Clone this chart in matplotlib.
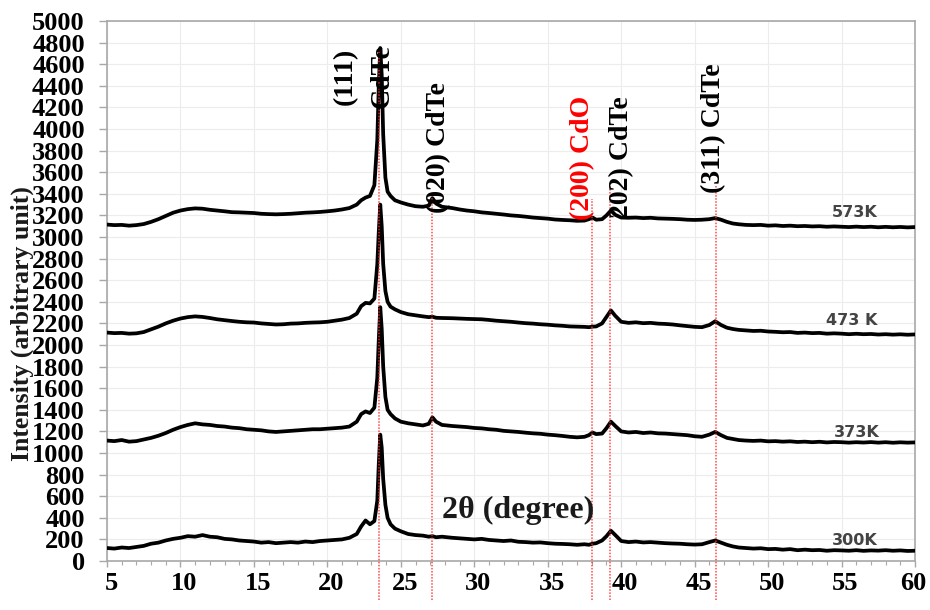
import matplotlib
matplotlib.use("Agg")
import matplotlib.pyplot as plt
import matplotlib.transforms as mtransforms
from matplotlib.ticker import MultipleLocator

# ---------------- data ----------------
two_theta = [5, 5.5, 6, 6.5, 7, 7.5, 8, 8.5, 9, 9.5, 10, 10.5, 11, 11.5, 12, 12.5, 13, 13.5,
             14, 14.5, 15, 15.5, 16, 16.5, 17, 17.5, 18, 18.5, 19, 19.5, 20, 20.5, 21, 21.5, 22,
             22.3, 22.6, 22.9, 23.2, 23.4, 23.5, 23.6, 23.7, 23.8, 23.95, 24.1, 24.3, 24.6,
             25, 25.5, 26, 26.5,
             26.9, 27.15, 27.4, 27.8,
             28.5, 29, 29.5, 30, 30.5, 31, 31.5, 32, 32.5, 33, 33.5, 34, 34.5, 35, 35.5, 36, 36.5, 37, 37.5,
             37.8, 38.05, 38.3, 38.7, 39.0, 39.3, 39.6, 40.0,
             40.5, 41, 41.5, 42, 42.5, 43, 43.5, 44, 44.5, 45, 45.5,
             46.0, 46.4, 46.8, 47.2, 47.6,
             48, 48.5, 49, 49.5, 50, 50.5, 51, 51.5, 52, 52.5, 53, 53.5, 54, 54.5, 55, 55.5, 56, 56.5,
             57, 57.5, 58, 58.5, 59, 59.5, 60]

i_300K = [120, 115, 125, 120, 130, 140, 160, 170, 190, 205, 215, 230, 225, 240, 225, 220, 205, 200,
          190, 185, 180, 170, 175, 165, 170, 175, 170, 180, 175, 185, 190, 195, 200, 215, 250,
          320, 375, 340, 370, 560, 900, 1170, 1050, 760, 520, 400, 340, 300,
          275, 250, 240, 235,
          225, 230, 220, 225,
          215, 210, 205, 200, 205, 195, 190, 185, 190, 178, 175, 170, 172, 165, 160, 158, 155, 150, 155,
          150, 160, 165, 190, 230, 280, 240, 185,
          175, 180, 172, 175, 170, 165, 162, 160, 155, 152, 155,
          175, 190, 170, 150, 135,
          125, 120, 115, 118, 110, 112, 105, 110, 100, 105, 100, 102, 95, 100, 98, 95, 100, 94,
          98, 96, 100, 95, 98, 93, 95]

i_373K = [1115, 1110, 1120, 1105, 1110, 1125, 1140, 1160, 1185, 1215, 1240, 1260, 1275, 1265, 1260, 1250, 1245, 1235,
          1230, 1220, 1215, 1210, 1200, 1195, 1200, 1205, 1210, 1215, 1220, 1220, 1225, 1230, 1235, 1245, 1290,
          1360, 1385, 1370, 1420, 1700, 2050, 2350, 2150, 1800, 1520, 1400, 1360, 1320,
          1290, 1275, 1265, 1255,
          1270, 1330, 1290, 1260,
          1250, 1245, 1240, 1232, 1228, 1220, 1215, 1205, 1200, 1195, 1188, 1182, 1178, 1170, 1165, 1158, 1150, 1145, 1150,
          1165, 1190, 1175, 1180, 1230, 1290, 1250, 1200,
          1190, 1195, 1185, 1190, 1182, 1180, 1175, 1170, 1165, 1155, 1150,
          1170, 1195, 1165, 1140, 1130,
          1120, 1115, 1112, 1115, 1108, 1110, 1105, 1108, 1102, 1105, 1100, 1104, 1098, 1102, 1100, 1096, 1100, 1097,
          1101, 1096, 1100, 1095, 1099, 1096, 1098]

i_473K = [2115, 2110, 2112, 2105, 2108, 2120, 2145, 2170, 2200, 2225, 2245, 2258, 2265, 2260, 2250, 2238, 2230, 2222,
          2215, 2210, 2208, 2200, 2195, 2190, 2192, 2198, 2200, 2205, 2208, 2210, 2215, 2225, 2235, 2250, 2290,
          2360, 2390, 2385, 2430, 2750, 3050, 3300, 3100, 2750, 2500, 2400, 2355, 2330,
          2305, 2285, 2275, 2265,
          2258, 2262, 2252, 2250,
          2248, 2245, 2242, 2240, 2238, 2232, 2225, 2220, 2215, 2208, 2202, 2198, 2192, 2188, 2182, 2178, 2172, 2170, 2168,
          2165, 2170, 2172, 2200, 2260, 2320, 2270, 2215,
          2205, 2210, 2202, 2205, 2198, 2195, 2190, 2182, 2175, 2168, 2165,
          2185, 2220, 2185, 2160, 2148,
          2140, 2135, 2130, 2132, 2125, 2122, 2118, 2120, 2112, 2115, 2110, 2112, 2105, 2108, 2105, 2100, 2104, 2100,
          2102, 2097, 2100, 2096, 2099, 2095, 2098]

i_573K = [3115, 3110, 3112, 3105, 3110, 3120, 3140, 3165, 3195, 3225, 3245, 3258, 3265, 3262, 3252, 3245, 3238, 3230,
          3228, 3225, 3222, 3215, 3212, 3210, 3212, 3215, 3220, 3225, 3228, 3232, 3238, 3245, 3255, 3268, 3300,
          3340, 3365, 3380, 3480, 3900, 4400, 4750, 4500, 3950, 3550, 3420, 3380, 3340,
          3320, 3300, 3285, 3280,
          3290, 3360, 3310, 3280,
          3268, 3255, 3245, 3238, 3228, 3222, 3215, 3208, 3200, 3195, 3188, 3180, 3175, 3170, 3162, 3158, 3155, 3150, 3152,
          3165, 3180, 3160, 3165, 3200, 3245, 3205, 3180,
          3178, 3180, 3175, 3178, 3172, 3170, 3168, 3165, 3160, 3158, 3160,
          3165, 3175, 3160, 3140, 3125,
          3118, 3112, 3110, 3112, 3105, 3108, 3102, 3105, 3100, 3102, 3098, 3100, 3095, 3098, 3095, 3092, 3096, 3092,
          3095, 3090, 3094, 3090, 3093, 3089, 3092]

x_ticks = [5, 10, 15, 20, 25, 30, 35, 40, 45, 50, 55, 60]

series_names = ["300K", "373K", "473 K", "573K"]
series_label_x = [55.9, 56.05, 55.7, 55.9]
series_label_y = [194, 1194, 2231, 3231]

peak_pos = [23.5, 27.15, 38.0, 39.25, 46.45]
peak_top = [4720, 3365, 3355, 3500, 3475]
peak_bottom = -360

peak_texts = ["(111)", "CdTe", "(020) CdTe", "(200) CdO", "202) CdTe", "(311) CdTe"]
peak_text_x = [21.2, 23.7, 27.55, 37.4, 40.05, 46.3]
peak_text_y = [4490, 4490, 3826, 3733, 3740, 4010]
peak_text_color = ["black", "black", "black", "red", "black", "black"]

# ---------------- figure ----------------
plt.rcParams["font.family"] = ["Liberation Serif", "DejaVu Serif"]
plt.rcParams["font.weight"] = "bold"

fig = plt.figure(figsize=(9.3, 6.1), dpi=100)
ax = fig.add_axes([107 / 930, 49 / 610, (915 - 107) / 930, (561 - 21) / 610])

ax.set_xlim(5, 60)
ax.set_ylim(0, 5000)
ax.set_xticks(x_ticks)
ax.set_xticklabels([str(v) for v in x_ticks])
ax.xaxis.set_minor_locator(MultipleLocator(1))
ax.yaxis.set_major_locator(MultipleLocator(200))
ax.grid(True, which="major", color="#ececec", lw=0.8)
ax.set_axisbelow(True)

for s in ax.spines.values():
    s.set_color("#a8a8a8")
    s.set_linewidth(1.2)

ax.tick_params(axis="y", direction="out", length=6, width=1, color="#a8a8a8",
               pad=10, labelsize=19)
ax.tick_params(axis="x", which="major", direction="out", length=4, width=1,
               color="#a8a8a8", pad=4, labelsize=19)
ax.tick_params(axis="x", which="minor", direction="out", length=3, width=0.8,
               color="#a8a8a8")
shift = mtransforms.ScaledTranslation(4 / 100, 0, fig.dpi_scale_trans)
shift_last = mtransforms.ScaledTranslation(-2 / 100, 0, fig.dpi_scale_trans)
xlabels = ax.get_xticklabels()
for k, lbl in enumerate(xlabels):
    lbl.set_fontweight("bold")
    if k < len(xlabels) - 1:
        lbl.set_transform(lbl.get_transform() + shift)
    else:
        lbl.set_transform(lbl.get_transform() + shift_last)
for lbl in ax.get_yticklabels():
    lbl.set_fontweight("bold")

for y in [i_300K, i_373K, i_473K, i_573K]:
    ax.plot(two_theta, y, color="black", lw=2.7, solid_joinstyle="round", zorder=3)

for xp, top in zip(peak_pos, peak_top):
    ax.plot([xp, xp], [peak_bottom, top], ls=(0, (1, 1)), color="#ff2a2a", lw=1.1,
            alpha=0.85, clip_on=False, zorder=4)

for t, xt, yt, c in zip(peak_texts, peak_text_x, peak_text_y, peak_text_color):
    ax.text(xt, yt, t, rotation=90, ha="center", va="center", fontsize=20,
            fontweight="bold", color=c, zorder=5)

for name, xl, yl in zip(series_names, series_label_x, series_label_y):
    ax.text(xl, yl, name, ha="center", va="center", fontsize=11.5, fontweight="bold",
            color="#444444", family="DejaVu Sans", zorder=5)

ax.text(33.0, 472, "2θ (degree)", ha="center", va="center", fontsize=23,
        fontweight="bold", color="#1a1a1a", zorder=5)

fig.text(22 / 930, 1 - 324 / 610, "Intensity (arbitrary unit)", rotation=90,
         ha="center", va="center", fontsize=18.5, fontweight="bold", color="#1a1a1a")

fig.savefig("out.png", dpi=100)
